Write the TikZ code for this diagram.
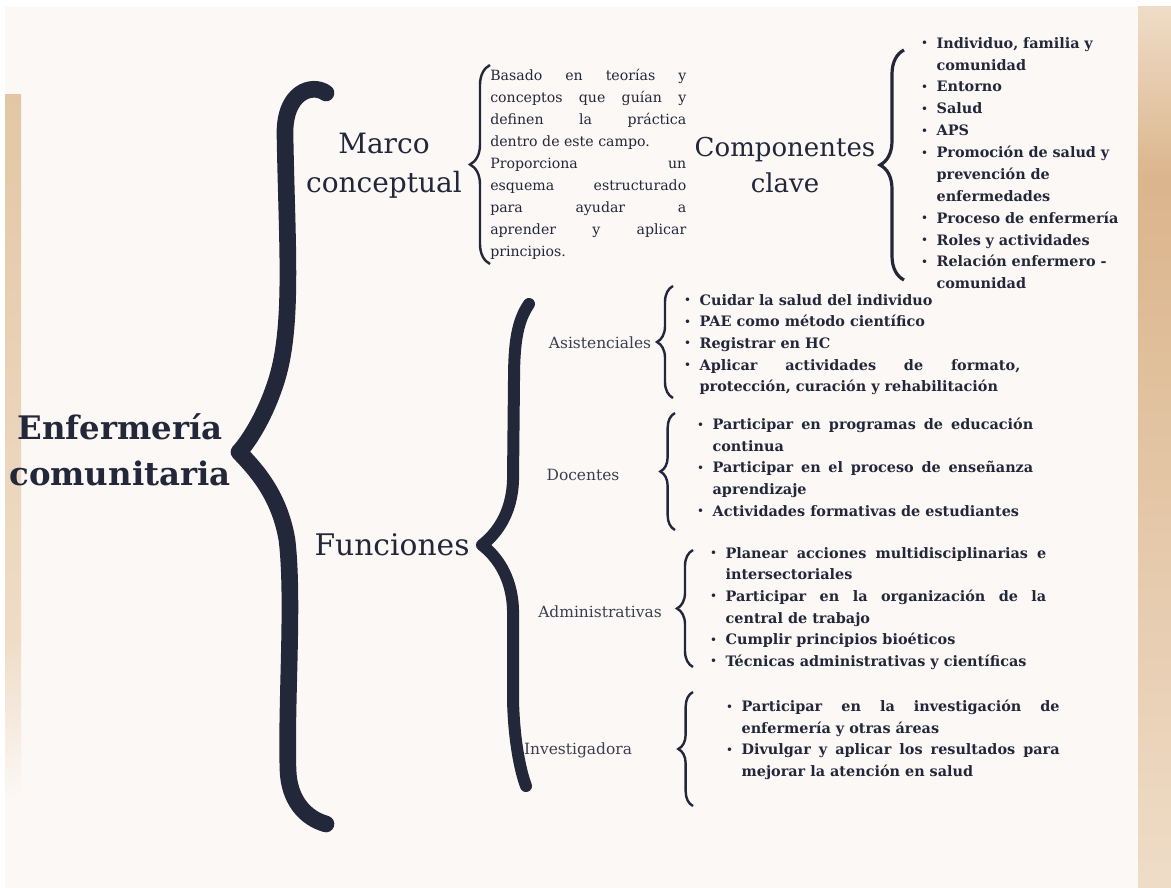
\documentclass[tikz,border=0pt]{standalone}
\usepackage{fontspec}
\setmainfont{DejaVu Serif}
\usetikzlibrary{decorations.pathreplacing}
\definecolor{ink}{HTML}{222739}
\definecolor{sub}{HTML}{3A3F4F}
\definecolor{cream}{HTML}{FCF8F6}
\definecolor{sandA}{HTML}{E3C7A5}
\definecolor{sandB}{HTML}{DBB58C}
\definecolor{sandC}{HTML}{EFDCC7}
\newlength\bulind \setlength\bulind{11.5pt}
\newcommand{\bul}{\raisebox{0.2ex}{\scalebox{0.7}{\textbullet}}}
\newcommand{\bitem}[1]{\hangindent=\bulind\hangafter=1\noindent\hbox to\bulind{\bul\hfil}#1\par}

\tikzset{
  head/.style={font=\fontsize{21}{29}\selectfont, text=ink, align=center, inner sep=0pt},
  lab/.style={font=\fontsize{11.6}{14}\selectfont, text=sub, inner sep=0pt},
  lst/.style={font=\bfseries\fontsize{10.8}{16.2}\selectfont, text=ink, inner sep=0pt,
    anchor=north west, text width=252pt, align=justify},
  thinbrace/.style={draw=ink, line width=1.8pt, decorate, decoration={brace, amplitude=#1}},
  fatbrace/.style={draw=ink, line cap=round, line join=round, line width=#1},
}

\begin{document}
\begin{tikzpicture}[x=0.75pt, y=-0.75pt]
  \useasboundingbox (0,0) rectangle (1171,888);
  \fill[white] (0,0) rectangle (1171,888);
  \fill[cream] (5,7) rectangle (1138,888);
  \shade[top color=sandC, bottom color=sandB] (1138,7) rectangle (1171,180);
  \shade[top color=sandB, bottom color=sandC] (1138,180) rectangle (1171,888);
  \shade[top color=sandA, bottom color=sandC] (5,95) rectangle (21,640);
  \shade[top color=sandC, bottom color=cream] (5,640) rectangle (21,800);

  % main brace
  \draw[fatbrace=12.5pt] (326,93) .. controls (312,83) and (284,92) .. (285,135)
    .. controls (287,250) and (294,330) .. (275,385)
    .. controls (265,415) and (250,440) .. (239,452)
    .. controls (252,466) and (279,492) .. (287,540)
    .. controls (294,600) and (286,700) .. (288,770)
    .. controls (289,800) and (305,818) .. (326,824);
  \node[head, font=\bfseries\fontsize{24.3}{34.5}\selectfont] (enf) at (120,450) {Enfermería\\comunitaria};

  % marco conceptual
  \node[head] (marco) at (384,166) {Marco\\conceptual};
  \coordinate (mb1) at (490,264);
  \coordinate (mb2) at (490,65);
  \draw[thinbrace=15pt] (mb1) -- (mb2);
  \node[font=\fontsize{10.6}{16.5}\selectfont, text=ink, inner sep=0pt, anchor=north west,
    text width=147pt, align=justify] (def) at (490,69)
    {\parindent=0pt Basado en teorías y\linebreak conceptos que guían y\linebreak
     definen la práctica\linebreak dentro de este campo.\par
     Proporciona un\linebreak esquema estructurado\linebreak para ayudar a\linebreak
     aprender y aplicar\linebreak principios.\par};

  \node[head, font=\fontsize{19.5}{27}\selectfont] (comp) at (785,165) {Componentes\\clave};
  \coordinate (cb1) at (904,280);
  \coordinate (cb2) at (904,50);
  \draw[thinbrace=18pt, line width=2.4pt] (cb1) -- (cb2);
  \node[lst, text width=175pt, align=left, font=\bfseries\fontsize{10.8}{16.4}\selectfont] (complist) at (921,37)
    {\bitem{Individuo, familia y\newline comunidad}
     \bitem{Entorno}
     \bitem{Salud}
     \bitem{APS}
     \bitem{Promoción de salud y\newline prevención de\newline enfermedades}
     \bitem{Proceso de enfermería}
     \bitem{Roles y actividades}
     \bitem{Relación enfermero -\newline comunidad}};

  % funciones
  \node[head, font=\fontsize{22.3}{29}\selectfont] (fun) at (392,545) {Funciones};
  \draw[fatbrace=9pt] (529,304) .. controls (518,320) and (514,340) .. (514,380)
    -- (513,480) .. controls (512,515) and (495,535) .. (482,545)
    .. controls (495,555) and (512,575) .. (513,610)
    -- (513,700) .. controls (514,740) and (520,770) .. (526,786);

  \node[lab] (asis) at (600,343) {Asistenciales};
  \coordinate (ab1) at (673,398);
  \coordinate (ab2) at (673,286);
  \draw[thinbrace=12pt] (ab1) -- (ab2);
  \node[lst] (asislist) at (684,294)
    {\bitem{Cuidar la salud del individuo}
     \bitem{PAE como método científico}
     \bitem{Registrar en HC}
     \bitem{Aplicar actividades de formato,\linebreak protección, curación y rehabilitación}};

  \node[lab] (doc) at (583,475) {Docentes};
  \coordinate (db1) at (675,530);
  \coordinate (db2) at (675,413);
  \draw[thinbrace=11pt] (db1) -- (db2);
  \node[lst] (doclist) at (697,418)
    {\bitem{Participar en programas de educación\linebreak continua}
     \bitem{Participar en el proceso de enseñanza\linebreak aprendizaje}
     \bitem{Actividades formativas de estudiantes}};

  \node[lab] (adm) at (600,612) {Administrativas};
  \coordinate (mb3) at (693,667);
  \coordinate (mb4) at (693,550);
  \draw[thinbrace=12pt] (mb3) -- (mb4);
  \node[lst] (admlist) at (710,547)
    {\bitem{Planear acciones multidisciplinarias e\linebreak intersectoriales}
     \bitem{Participar en la organización de la\linebreak central de trabajo}
     \bitem{Cumplir principios bioéticos}
     \bitem{Técnicas administrativas y científicas}};

  \node[lab] (inv) at (578,750) {Investigadora};
  \coordinate (ib1) at (693,806);
  \coordinate (ib2) at (693,692);
  \draw[thinbrace=11pt] (ib1) -- (ib2);
  \node[lst, text width=250pt] (invlist) at (726,700)
    {\bitem{Participar en la investigación de\linebreak enfermería y otras áreas}
     \bitem{Divulgar y aplicar los resultados para\linebreak mejorar la atención en salud}};
\end{tikzpicture}
\end{document}
